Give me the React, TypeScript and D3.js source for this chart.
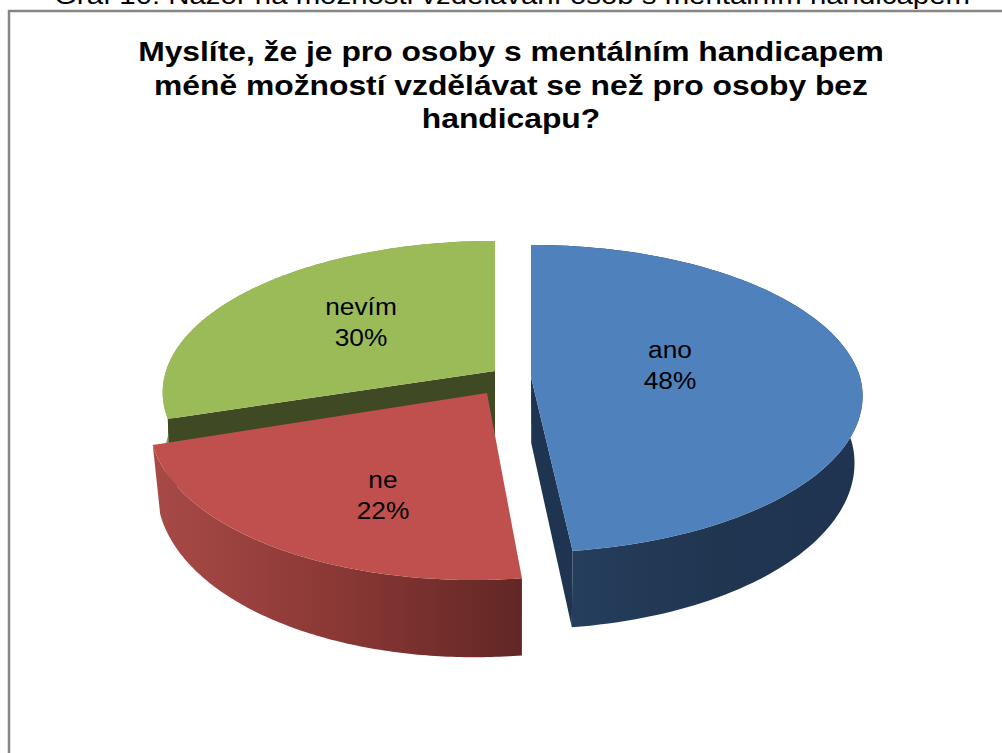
import { useRef, useEffect } from 'react'
import * as d3 from 'd3'

const caption = 'Graf 10: Názor na možnosti vzdělávání osob s mentálním handicapem'
const titleLines = [
  'Myslíte, že je pro osoby s mentálním handicapem',
  'méně možností vzdělávat se než pro osoby bez',
  'handicapu?',
]
const categories = ['ano', 'ne', 'nevím']
const shares = [48, 22, 30]

// layout of each exploded slice, same order as categories
const apexX = [531, 487, 495]
const apexY = [377, 393, 371]
const stretchX = [1, 1.01, 1]
const stretchY = [0.985, 1.05, 0.97]
const vanishX = [570, 570, 495]
const shrinkX = [540, 521, 495]
const shrink = [0.975, 0.98, 0.995]
const labelX = [670, 383, 361]
const labelY = [358, 488, 315]
const topColors = ['#4f81bd', '#c0504d', '#9bbb59']
const cutColors = ['#1f3450', '#5f2a28', '#3f4a24']
const wallStops = [
  ['#253e5c', '#203550', '#1f3450'],
  ['#a84a47', '#8a3835', '#622725'],
  ['#8aa84e', '#7f9a48', '#7f9a48'],
]

// the pie is a tilted disc seen in perspective, so d3.arc can't draw it
const rx = 329
const ry = 153
const persp = 0.141

// the picture was stretched sideways when it was pasted
const titleStretch = 1.157
const labelStretch = 1.12

const App = () => {
  const ref = useRef<SVGSVGElement>(null)

  useEffect(() => {
    const svg = d3.select(ref.current)
    svg.selectAll('*').remove()

    const slices = d3.pie<number>().sort(null)(shares)
    const line = d3.line()

    const top = (i: number, a: number): [number, number] => {
      const u = Math.sin(a)
      const v = -Math.cos(a)
      const s = 1 / (1 - persp * v)
      return [
        apexX[i] + rx * stretchX[i] * u * s + (apexX[i] - vanishX[i]) * Math.max(0, s - 1),
        apexY[i] + ry * v * s * stretchY[i],
      ]
    }
    const drop = (i: number, p: [number, number]): [number, number] => [
      shrinkX[i] + (p[0] - shrinkX[i]) * shrink[i],
      p[1] + 66 + (p[1] - apexY[i]) * 0.06,
    ]
    const arcPoints = (i: number, a0: number, a1: number) =>
      d3.range(0, 121).map((k) => top(i, a0 + ((a1 - a0) * k) / 120))

    const defs = svg.append('defs')
    wallStops.forEach((stops, i) => {
      const pts = arcPoints(i, slices[i].startAngle, slices[i].endAngle)
      const extent = d3.extent(pts, (p) => p[0]) as [number, number]
      const g = defs.append('linearGradient')
        .attr('id', `wall${i}`)
        .attr('gradientUnits', 'userSpaceOnUse')
        .attr('x1', i === 0 ? top(0, slices[0].endAngle)[0] : extent[0])
        .attr('x2', extent[1])
        .attr('y1', 0)
        .attr('y2', 0)
      stops.forEach((c, k) => {
        g.append('stop').attr('offset', k / (stops.length - 1)).attr('stop-color', c)
      })
    })

    // frame of the embedded chart, runs off the page on the right and bottom
    svg.append('path')
      .attr('d', 'M9,760V11H1010')
      .attr('fill', 'none')
      .attr('stroke', '#868686')
      .attr('stroke-width', 2.5)

    svg.append('text')
      .attr('transform', `translate(512,4) scale(${titleStretch},1)`)
      .attr('text-anchor', 'middle')
      .attr('font-family', 'Liberation Sans')
      .attr('font-size', 25.4)
      .text(caption)

    svg.append('g')
      .selectAll('text')
      .data(titleLines)
      .enter()
      .append('text')
      .attr('transform', (d, i) => `translate(511,${61 + i * 33.5}) scale(${titleStretch},1)`)
      .attr('text-anchor', 'middle')
      .attr('font-family', 'Liberation Sans')
      .attr('font-weight', 'bold')
      .attr('font-size', 27.5)
      .text((d) => d)

    // back to front: green, red, blue
    const order = [2, 1, 0]
    const g = svg.append('g')
    order.forEach((i) => {
      const { startAngle, endAngle } = slices[i]
      const apex: [number, number] = [apexX[i], apexY[i]]
      const rim = arcPoints(i, startAngle, endAngle)

      g.append('path')
        .attr('d', line([...rim, ...rim.map((p) => drop(i, p)).reverse()]) + 'Z')
        .attr('fill', `url(#wall${i})`)

      // only blue and green show a cut face
      if (i !== 1) {
        const edge = top(i, i === 0 ? endAngle : startAngle)
        g.append('path')
          .attr('d', line([apex, edge, drop(i, edge), drop(i, apex)]) + 'Z')
          .attr('fill', cutColors[i])
      }

      g.append('path')
        .attr('d', line([apex, ...rim]) + 'Z')
        .attr('fill', topColors[i])
    })

    categories.forEach((c, i) => {
      const label = svg.append('g')
        .attr('transform', `translate(${labelX[i]},${labelY[i]}) scale(${labelStretch},1)`)
        .attr('text-anchor', 'middle')
        .attr('font-family', 'Liberation Sans')
        .attr('font-size', 23.5)
      label.append('text').text(c)
      label.append('text').attr('y', 31).text(`${shares[i]}%`)
    })
  }, [])

  return <svg ref={ref} width={1002} height={753} style={{ position: 'absolute', left: 0, top: 0 }} />
}

export default App
